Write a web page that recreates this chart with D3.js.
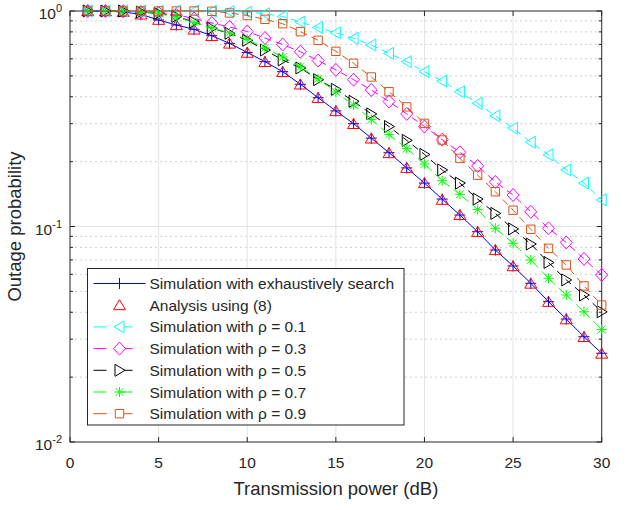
<!DOCTYPE html>
<html><head><meta charset="utf-8">
<script src="https://cdn.jsdelivr.net/npm/d3@7"></script>
<style>
body{margin:0;background:#fff}
svg{display:block}
text{font-family:"Liberation Sans",Arial,Helvetica,sans-serif;fill:#262626}
</style>
</head><body><svg id="c" width="626" height="510"></svg>
<script>
// ---------------- data ----------------
const power = [1,2,3,4,5,6,7,8,9,10,11,12,13,14,15,16,17,18,19,20,21,22,23,24,25,26,27,28,29,30];
const exhaustive = [1.0,0.998,0.99,0.965,0.908,0.861,0.822,0.768,0.708,0.642,0.582,0.523,0.457,0.396,0.344,0.300,0.257,0.220,0.187,0.159,0.134,0.113,0.0946,0.0778,0.0656,0.0545,0.0448,0.0372,0.0308,0.0258];
const analysis = [1.0,0.998,0.99,0.963,0.91,0.86,0.82,0.765,0.706,0.64,0.58,0.521,0.456,0.395,0.343,0.299,0.256,0.219,0.187,0.159,0.133,0.113,0.0944,0.0777,0.0654,0.0543,0.0447,0.0371,0.0307,0.0257];
const rho01 = [1,1,1,1,1,1,1.0,0.998,0.995,0.988,0.972,0.943,0.889,0.838,0.792,0.747,0.695,0.636,0.582,0.523,0.473,0.422,0.373,0.326,0.286,0.246,0.215,0.183,0.159,0.133];
const rho03 = [1,1,0.998,0.989,0.979,0.958,0.923,0.880,0.843,0.803,0.749,0.699,0.647,0.589,0.533,0.480,0.430,0.380,0.333,0.291,0.253,0.221,0.191,0.161,0.140,0.117,0.0981,0.0843,0.0707,0.0596];
const rho05 = [1,1,1,0.989,0.974,0.943,0.889,0.831,0.788,0.731,0.659,0.593,0.544,0.480,0.433,0.381,0.333,0.291,0.251,0.216,0.183,0.159,0.134,0.115,0.0974,0.0829,0.0681,0.0565,0.0481,0.0402];
const rho07 = [1,1,1,0.989,0.974,0.938,0.884,0.834,0.791,0.738,0.674,0.612,0.550,0.484,0.421,0.366,0.314,0.267,0.230,0.195,0.163,0.141,0.120,0.0981,0.0836,0.0699,0.0575,0.0481,0.0402,0.0333];
const rho09 = [1,1,1,1,1,1,1,0.997,0.979,0.953,0.915,0.873,0.802,0.731,0.650,0.572,0.494,0.422,0.359,0.301,0.252,0.207,0.173,0.145,0.119,0.0971,0.0792,0.0663,0.0530,0.0432];

const seriesNames = ["Simulation with exhaustively search","Analysis using (8)","Simulation with \u03c1 = 0.1","Simulation with \u03c1 = 0.3","Simulation with \u03c1 = 0.5","Simulation with \u03c1 = 0.7","Simulation with \u03c1 = 0.9"];
const xTicks = [0,5,10,15,20,25,30];
const yTickExps = [0,-1,-2];
const xLabel = "Transmission power (dB)";
const yLabel = "Outage probability";

// ---------------- styles ----------------
const seriesStyle = [
  {vals: exhaustive, color:"#0000ff", line:"solid", marker:"plus"},
  {vals: analysis,   color:"#ff0000", line:"none",  marker:"triUp"},
  {vals: rho01,      color:"#00ffff", line:"dash",  marker:"triLeft"},
  {vals: rho03,      color:"#ff00ff", line:"dash",  marker:"diamond"},
  {vals: rho05,      color:"#000000", line:"dash",  marker:"triRight"},
  {vals: rho07,      color:"#00ff00", line:"dash",  marker:"star"},
  {vals: rho09,      color:"#d95319", line:"dash",  marker:"square"}
];
const markerPath = {
  plus:    "M-5.5,0H5.5M0,-5.5V5.5",
  triUp:   "M0,-5.5L6,4.5L-6,4.5Z",
  triLeft: "M-5.5,0L4.5,-6L4.5,6Z",
  triRight:"M5.5,0L-4.5,-6L-4.5,6Z",
  diamond: "M0,-6.5L6,0L0,6.5L-6,0Z",
  star:    "M-5,0H5M0,-5V5M-3.8,-3.8L3.8,3.8M-3.8,3.8L3.8,-3.8",
  square:  "M-4.2,-4.2H4.2V4.2H-4.2Z"
};

const L = 70, R = 601.7, T = 11, B = 442;
const x = d3.scaleLinear().domain([0,30]).range([L,R]);
const y = d3.scaleLog().domain([0.01,1]).range([B,T]);
const svg = d3.select("#c");
const axisColor = "#262626";

// grid
const g = svg.append("g");
const minorY = [];
[0.01,0.1].forEach(dec => { for (let k=2;k<=9;k++) minorY.push(+(k*dec).toPrecision(3)); });
g.selectAll(".ym").data(minorY).enter().append("line")
  .attr("x1",L).attr("x2",R).attr("y1",d=>y(d)).attr("y2",d=>y(d))
  .attr("stroke","#d0d0d0").attr("stroke-width",1).attr("stroke-dasharray","2,3");
g.selectAll(".yM").data([0.1]).enter().append("line")
  .attr("x1",L).attr("x2",R).attr("y1",d=>y(d)).attr("y2",d=>y(d))
  .attr("stroke","#e3e3e3").attr("stroke-width",1);
g.selectAll(".xM").data(xTicks.slice(1,-1)).enter().append("line")
  .attr("x1",d=>x(d)).attr("x2",d=>x(d)).attr("y1",T).attr("y2",B)
  .attr("stroke","#e3e3e3").attr("stroke-width",1);

// box and ticks
const ax = svg.append("g");
ax.append("rect").attr("x",L).attr("y",T).attr("width",R-L).attr("height",B-T)
  .attr("fill","none").attr("stroke",axisColor).attr("stroke-width",1);
xTicks.forEach(t => {
  ax.append("line").attr("x1",x(t)).attr("x2",x(t)).attr("y1",B).attr("y2",B-5).attr("stroke",axisColor);
  ax.append("line").attr("x1",x(t)).attr("x2",x(t)).attr("y1",T).attr("y2",T+5).attr("stroke",axisColor);
  ax.append("text").attr("x",x(t)).attr("y",B+26).attr("text-anchor","middle")
    .attr("font-size",15.5).text(t);
});
minorY.forEach(v => {
  ax.append("line").attr("x1",L).attr("x2",L+3).attr("y1",y(v)).attr("y2",y(v)).attr("stroke",axisColor);
  ax.append("line").attr("x1",R).attr("x2",R-3).attr("y1",y(v)).attr("y2",y(v)).attr("stroke",axisColor);
});
yTickExps.forEach(e => {
  const v = Math.pow(10,e);
  ax.append("line").attr("x1",L).attr("x2",L+5).attr("y1",y(v)).attr("y2",y(v)).attr("stroke",axisColor);
  ax.append("line").attr("x1",R).attr("x2",R-5).attr("y1",y(v)).attr("y2",y(v)).attr("stroke",axisColor);
  const t = ax.append("text").attr("x",L-8).attr("y",y(v)+8).attr("text-anchor","end").attr("font-size",15.5);
  t.append("tspan").text("10");
  t.append("tspan").attr("dy",-7).attr("font-size",11).text(String(e).replace("-","-"));
});

// axis labels
svg.append("text").attr("x",(L+R)/2).attr("y",495).attr("text-anchor","middle")
  .attr("font-size",18.5).text(xLabel);
svg.append("text").attr("transform",`translate(21,${(T+B)/2}) rotate(-90)`)
  .attr("text-anchor","middle").attr("font-size",18.5).text(yLabel);

// curves
const lineGen = d3.line().x((d,i)=>x(power[i])).y(d=>y(d));
const plot = svg.append("g");
seriesStyle.forEach(s => {
  if (s.line !== "none") {
    plot.append("path").attr("d",lineGen(s.vals)).attr("fill","none")
      .attr("stroke",s.color).attr("stroke-width",1)
      .attr("stroke-dasharray", s.line==="dash" ? "7,5" : null);
  }
  plot.selectAll(null).data(s.vals).enter().append("path")
    .attr("transform",(d,i)=>`translate(${x(power[i])},${y(d)})`)
    .attr("d",markerPath[s.marker]).attr("fill","none")
    .attr("stroke",s.color).attr("stroke-width",1);
});

// legend
const lg = svg.append("g");
const lx = 87.5, ly = 268.5, lw = 316.5, lh = 156.5;
lg.append("rect").attr("x",lx).attr("y",ly).attr("width",lw).attr("height",lh)
  .attr("fill","#fff").attr("stroke",axisColor).attr("stroke-width",1);
seriesNames.forEach((name,i) => {
  const s = seriesStyle[i];
  const cy = ly + 15 + i*21.7;
  if (s.line !== "none") {
    lg.append("line").attr("x1",lx+6).attr("x2",lx+58).attr("y1",cy).attr("y2",cy)
      .attr("stroke",s.color).attr("stroke-width",1)
      .attr("stroke-dasharray", s.line==="dash" ? "13,13" : null);
  }
  lg.append("path").attr("transform",`translate(${lx+32},${cy})`).attr("d",markerPath[s.marker])
    .attr("fill", s.line==="dash" ? "#fff" : "none").attr("stroke",s.color).attr("stroke-width",1);
  lg.append("text").attr("x",lx+62).attr("y",cy+5.5).attr("font-size",15.5).text(name);
});
</script>
</body></html>
